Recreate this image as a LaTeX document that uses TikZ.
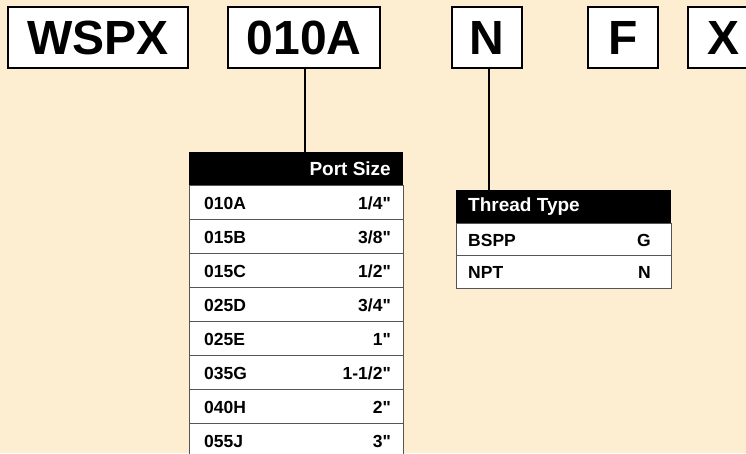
\documentclass[tikz,border=0pt]{standalone}
\usepackage{fontspec}
\setmainfont{Liberation Sans}[Ligatures=TeXOff]
\definecolor{cream}{RGB}{253,238,209}
\definecolor{rulegray}{RGB}{85,85,85}

\begin{document}
\begin{tikzpicture}[x=1pt, y=-1pt,
    codebox/.style={rectangle, draw=black, line width=1.8pt, fill=white,
                    minimum height=61pt, inner sep=0pt,
                    font=\fontsize{48}{48}\selectfont\bfseries},
    hdr/.style={rectangle, fill=black, minimum height=33pt, inner sep=0pt},
    hdrtext/.style={text=white, inner sep=0pt, font=\fontsize{19}{19}\selectfont\bfseries},
    cell/.style={rectangle, draw=rulegray, line width=0.8pt, fill=white,
                 minimum height=34pt, inner sep=0pt},
    celltext/.style={inner sep=0pt, font=\fontsize{17.5}{17.5}\selectfont\bfseries},
    lnk/.style={line width=1.5pt, draw=black}]

    \fill [cream] (0,0) rectangle (746,453);
    \useasboundingbox (0,0) rectangle (746,453);

    % model code
    \node (series) [codebox, minimum width=180pt] at (98,37.5)  {WSPX};
    \node (size)   [codebox, minimum width=152pt] at (304,37.5) {010A};
    \node (thread) [codebox, minimum width=70pt]  at (487,37.5) {N};
    \node (face)   [codebox, minimum width=70pt]  at (623,37.5) {F};
    \node (opt)    [codebox, minimum width=70pt]  at (723,37.5) {X};

    % port size table
    \node (sizehdr) [hdr, minimum width=214pt] at (296,168.5) {};
    \node (sizehdrtxt) [hdrtext, anchor=east] at (391,169) {Port Size};
    \foreach \c/\s [count=\i] in {010A/{1/4"}, 015B/{3/8"}, 015C/{1/2"}, 025D/{3/4"},
                                  025E/{1"}, 035G/{1-1/2"}, 040H/{2"}, 055J/{3"}} {
        \node (sizerow\i) [cell, minimum width=214pt] at (296,{202+34*(\i-1)}) {};
        \node (sizecode\i) [celltext, anchor=west] at (204,{203+34*(\i-1)}) {\c};
        \node (sizeval\i)  [celltext, anchor=east] at (391,{203+34*(\i-1)}) {\s};
    }

    % thread type table
    \node (threadhdr) [hdr, minimum width=215pt] at (563.5,206.5) {};
    \node (threadhdrtxt) [hdrtext, anchor=west] at (468,207) {Thread Type};
    \foreach \c/\s [count=\i] in {BSPP/G, NPT/N} {
        \node (threadrow\i) [cell, minimum width=215pt, minimum height=32.5pt] at (563.5,{239.25+32.5*(\i-1)}) {};
        \node (threadcode\i) [celltext, anchor=west] at (468,{240+32.5*(\i-1)}) {\c};
        \node (threadval\i)  [celltext, anchor=east] at (651,{240+32.5*(\i-1)}) {\s};
    }

    % leaders
    \draw [lnk] ([xshift=1pt]size.south) -- ([xshift=1pt]size.south |- sizehdr.north);
    \draw [lnk] ([xshift=2pt]thread.south) -- ([xshift=2pt]thread.south |- threadhdr.north);
\end{tikzpicture}
\end{document}
